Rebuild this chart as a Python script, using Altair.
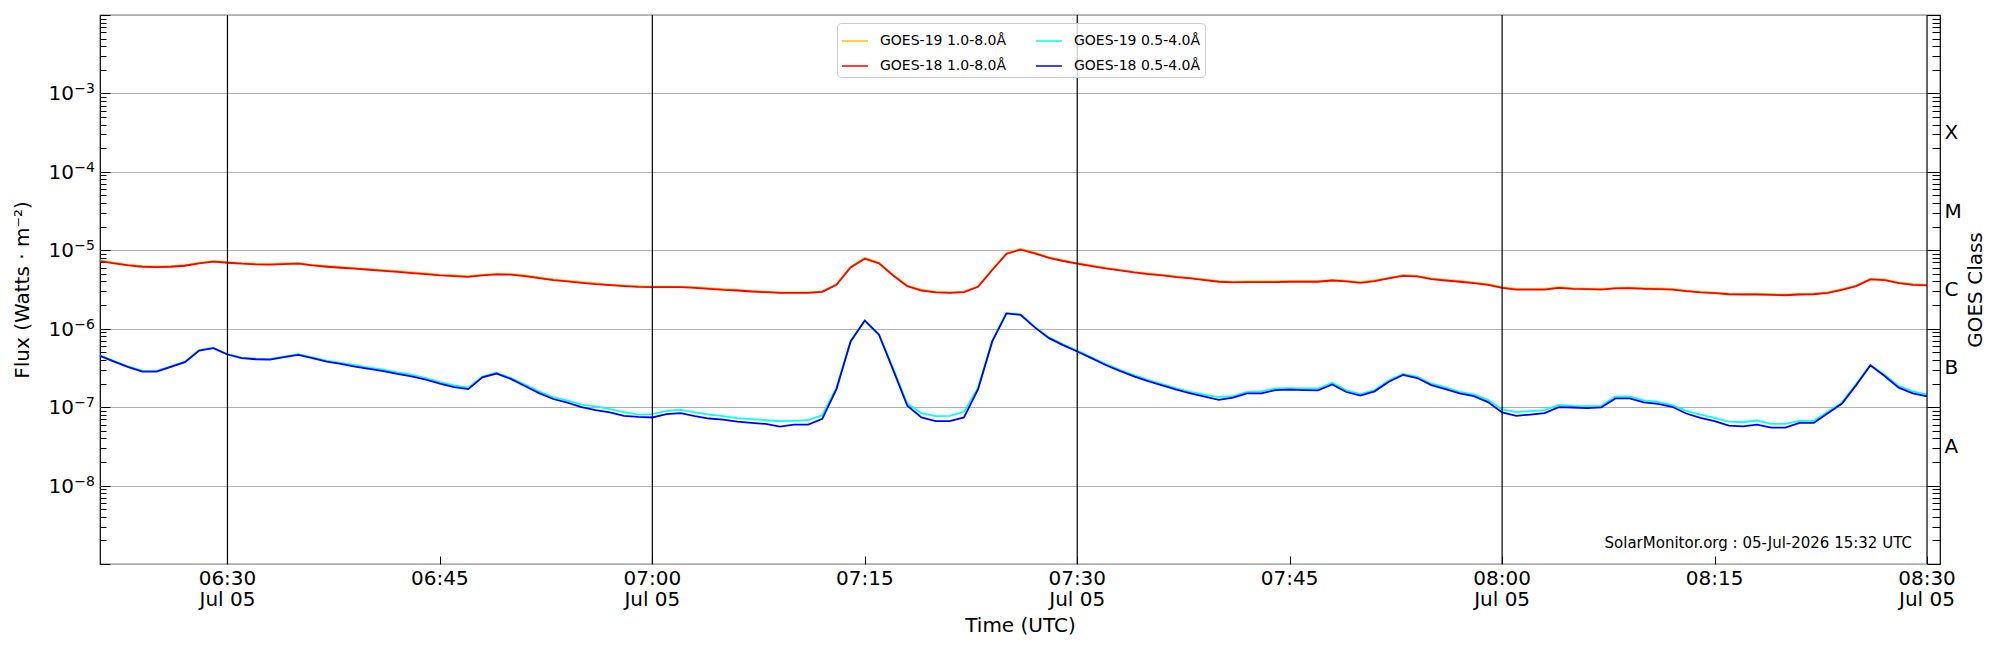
import altair as alt
import pandas as pd

# ---------------- data ----------------
start_time = "2026-07-05 06:21"
n_points = 130

# GOES-18 1.0-8.0 A  (units of 1e-6 W/m^2)
goes18_long_e6 = [
    7.29, 6.81, 6.41, 6.17, 6.11, 6.17, 6.35, 6.81, 7.15, 6.94,
    6.74, 6.61, 6.55, 6.67, 6.74, 6.41, 6.17, 5.99, 5.82, 5.65,
    5.48, 5.32, 5.12, 4.97, 4.78, 4.69, 4.59, 4.78, 4.92, 4.88,
    4.69, 4.42, 4.17, 4.01, 3.85, 3.70, 3.59, 3.49, 3.42, 3.39,
    3.39, 3.39, 3.32, 3.23, 3.13, 3.07, 2.98, 2.92, 2.86, 2.86,
    2.86, 2.95, 3.63, 6.05, 7.82, 6.81, 4.78, 3.49, 3.07, 2.90,
    2.86, 2.92, 3.42, 5.60, 8.98, 10.2, 9.16, 7.98, 7.30, 6.75,
    6.30, 5.88, 5.54, 5.22, 4.98, 4.78, 4.55, 4.38, 4.17, 3.97,
    3.89, 3.93, 3.93, 3.93, 3.97, 3.97, 3.97, 4.12, 4.01, 3.85,
    4.05, 4.38, 4.73, 4.65, 4.29, 4.12, 3.97, 3.81, 3.63, 3.32,
    3.16, 3.16, 3.16, 3.32, 3.23, 3.19, 3.16, 3.26, 3.29, 3.23,
    3.20, 3.16, 3.01, 2.90, 2.84, 2.75, 2.73, 2.73, 2.70, 2.67,
    2.73, 2.75, 2.86, 3.13, 3.49, 4.25, 4.17, 3.81, 3.63, 3.56,
]
# GOES-19 1.0-8.0 A  (units of 1e-6 W/m^2)
goes19_long_e6 = [
    7.42, 6.93, 6.52, 6.28, 6.22, 6.28, 6.46, 6.93, 7.28, 7.06,
    6.86, 6.73, 6.67, 6.79, 6.86, 6.52, 6.28, 6.10, 5.92, 5.75,
    5.58, 5.41, 5.21, 5.06, 4.86, 4.77, 4.67, 4.86, 5.01, 4.97,
    4.77, 4.50, 4.24, 4.08, 3.92, 3.77, 3.65, 3.55, 3.48, 3.45,
    3.45, 3.45, 3.38, 3.29, 3.19, 3.12, 3.03, 2.97, 2.91, 2.91,
    2.91, 3.00, 3.69, 6.15, 7.95, 6.93, 4.86, 3.55, 3.12, 2.95,
    2.91, 2.97, 3.48, 5.70, 9.13, 10.4, 9.32, 8.12, 7.43, 6.87,
    6.41, 5.98, 5.64, 5.31, 5.07, 4.86, 4.63, 4.46, 4.24, 4.04,
    3.96, 4.00, 4.00, 4.00, 4.04, 4.04, 4.04, 4.19, 4.08, 3.92,
    4.12, 4.46, 4.81, 4.73, 4.37, 4.19, 4.04, 3.88, 3.69, 3.38,
    3.22, 3.22, 3.22, 3.38, 3.29, 3.25, 3.22, 3.32, 3.35, 3.29,
    3.26, 3.22, 3.06, 2.95, 2.89, 2.80, 2.78, 2.78, 2.75, 2.72,
    2.78, 2.80, 2.91, 3.19, 3.55, 4.33, 4.24, 3.88, 3.69, 3.62,
]
# GOES-18 0.5-4.0 A  (units of 1e-8 W/m^2)
goes18_short_e8 = [
    45.1, 38.1, 32.3, 28.4, 28.4, 32.6, 37.4, 52.7, 56.5, 46.9,
    42.1, 40.8, 40.4, 43.3, 46.5, 42.1, 38.1, 35.6, 32.9, 30.7,
    28.7, 26.5, 24.7, 22.4, 19.9, 18.0, 17.0, 24.0, 26.8, 22.9,
    18.6, 15.1, 12.7, 11.4, 10.0, 9.16, 8.55, 7.74, 7.52, 7.38,
    8.13, 8.38, 7.67, 7.16, 6.95, 6.55, 6.30, 6.11, 5.65, 6.00,
    6.00, 7.08, 17.0, 68.8, 127.0, 83.8, 29.8, 10.4, 7.38, 6.62,
    6.62, 7.38, 17.0, 68.8, 157.0, 150.0, 104.0, 75.9, 61.8, 51.2,
    42.1, 34.5, 29.0, 24.7, 21.5, 19.0, 16.7, 15.0, 13.6, 12.4,
    13.2, 15.0, 15.0, 16.5, 16.7, 16.5, 16.4, 19.5, 15.6, 14.0,
    15.9, 21.1, 25.7, 23.5, 19.1, 17.0, 15.0, 13.8, 11.6, 8.55,
    7.74, 8.05, 8.38, 10.0, 9.90, 9.70, 9.90, 12.9, 12.9, 11.5,
    11.0, 10.1, 8.30, 7.30, 6.62, 5.82, 5.70, 6.00, 5.48, 5.48,
    6.30, 6.30, 8.38, 11.1, 19.1, 34.2, 25.0, 17.7, 15.0, 13.7,
]
# GOES-19 0.5-4.0 A  (units of 1e-8 W/m^2)
goes19_short_e8 = [
    45.8, 38.8, 33.0, 29.0, 29.0, 33.2, 38.0, 53.5, 57.2, 47.6,
    42.9, 41.6, 41.2, 44.1, 47.3, 43.0, 39.2, 36.8, 34.2, 32.0,
    30.0, 27.8, 25.9, 23.5, 20.9, 18.9, 17.7, 24.6, 27.4, 23.6,
    19.4, 15.9, 13.3, 12.2, 10.8, 10.2, 9.42, 8.63, 8.05, 8.13,
    8.97, 9.24, 8.55, 8.05, 7.67, 7.23, 7.02, 6.81, 6.62, 6.70,
    6.81, 7.89, 17.7, 69.5, 128.0, 85.0, 31.3, 11.1, 8.38, 7.67,
    7.74, 8.71, 17.7, 70.0, 158.0, 152.0, 106.0, 77.5, 63.2, 52.5,
    43.3, 35.6, 30.0, 25.6, 22.3, 19.7, 17.3, 15.7, 14.4, 13.4,
    13.8, 15.7, 15.9, 17.3, 17.5, 17.3, 17.3, 20.5, 16.4, 14.7,
    16.5, 22.0, 26.5, 24.5, 19.9, 17.9, 15.7, 14.5, 12.4, 9.33,
    8.63, 8.89, 9.16, 10.7, 10.4, 10.3, 10.4, 13.7, 13.7, 12.2,
    11.7, 10.6, 8.97, 8.05, 7.30, 6.55, 6.42, 6.75, 6.11, 6.11,
    6.70, 6.70, 8.71, 11.5, 19.7, 34.5, 25.9, 18.6, 15.9, 14.4,
]

# legend fills column by column -> rows read (19 long, 19 short), (18 long, 18 short)
series_legend_order = ["GOES-19 1.0-8.0Å", "GOES-18 1.0-8.0Å", "GOES-19 0.5-4.0Å", "GOES-18 0.5-4.0Å"]
series_colors = ["#FFC107", "#FF0000", "#00FFFF", "#0000FF"]

rule_hm = [(6, 30), (7, 0), (7, 30), (8, 0), (8, 30)]
x_tick_hm = [(6, 30), (6, 45), (7, 0), (7, 15), (7, 30), (7, 45), (8, 0), (8, 15), (8, 30)]
x_tick_labels = ["06:30", "06:45", "07:00", "07:15", "07:30", "07:45", "08:00", "08:15", "08:30"]
date_label = "Jul 05"
y_label_exponents = [-3, -4, -5, -6, -7, -8]
class_letters = ["A", "B", "C", "M", "X"]
class_exponents = [-7.5, -6.5, -5.5, -4.5, -3.5]
annotation = "SolarMonitor.org : 05-Jul-2026 15:32 UTC"

for lst in (goes18_long_e6, goes19_long_e6, goes18_short_e8, goes19_short_e8):
    assert len(lst) == n_points

times = pd.date_range(start_time, periods=n_points, freq="min").strftime("%Y-%m-%dT%H:%M:%SZ").tolist()

draw_order = [
    ("GOES-19 1.0-8.0Å", goes19_long_e6, 1e-6),
    ("GOES-18 1.0-8.0Å", goes18_long_e6, 1e-6),
    ("GOES-19 0.5-4.0Å", goes19_short_e8, 1e-8),
    ("GOES-18 0.5-4.0Å", goes18_short_e8, 1e-8),
]

# ---------------- layout / styling ----------------
W, H = 1840, 549
FONT = "DejaVu Sans"


def dt(h, m, s=0):
    return alt.DateTime(year=2026, month=7, date=5, hours=h, minutes=m, seconds=s, utc=True)


def iso(h, m):
    return f"2026-07-05T{h:02d}:{m:02d}:00Z"


def ms(h, m):
    return int(pd.Timestamp(f"2026-07-05 {h:02d}:{m:02d}:00", tz="UTC").value // 10**6)


rule_times = [iso(h, m) for h, m in rule_hm]

x_scale = alt.Scale(type="utc", domain=[dt(6, 21), dt(8, 30, 55)])
y_scale = alt.Scale(type="log", domain=[1e-9, 1e-2], nice=False)

decades = [10.0 ** e for e in range(-9, -1)]
minors = [k * 10.0 ** e for e in range(-9, -2) for k in range(2, 10)]

class_values = [10.0 ** e for e in class_exponents]
class_expr = ""
for e, letter in zip(class_exponents[:-1], class_letters[:-1]):
    class_expr += f"datum.value < {10.0 ** (e + 0.5)} ? '{letter}' : "
class_expr += f"'{class_letters[-1]}'"

# ---- axes: ticks point inward, titles on the tick axes ----
x_ticks_axis = alt.Axis(
    orient="bottom", values=[ms(h, m) for h, m in x_tick_hm], labels=False,
    tickSize=alt.ExprRef(expr="-8"), tickColor="black", tickWidth=1,
    domain=False, grid=False,
    title="Time (UTC)", titleFont=FONT, titleFontSize=20, titleFontWeight="normal",
    titleColor="black", titlePadding=51,
)
y_left_major = alt.Axis(
    orient="left", values=decades, labels=False,
    tickSize=alt.ExprRef(expr="-10"), tickColor="black", tickWidth=1,
    grid=True, gridColor="#b0b0b0", gridWidth=1, domain=False,
    title="Flux (Watts · m⁻²)", titleFont=FONT, titleFontSize=20,
    titleFontWeight="normal", titleColor="black", titlePadding=67,
)
y_left_minor = alt.Axis(
    orient="left", values=minors, labels=False, grid=False, domain=False,
    tickSize=alt.ExprRef(expr="-6"), tickColor="black", tickWidth=1, title="",
)
y_right_major = alt.Axis(
    orient="right", values=decades, labels=False, grid=False, domain=False,
    tickSize=alt.ExprRef(expr="-13"), tickColor="black", tickWidth=1, title="",
)
y_right_minor = alt.Axis(
    orient="right", values=minors, labels=False, grid=False, domain=False,
    tickSize=alt.ExprRef(expr="-8"), tickColor="black", tickWidth=1, title="",
)
y_right_class = alt.Axis(
    orient="right", values=class_values, labelExpr=class_expr, ticks=False,
    grid=False, domain=False, labelFont=FONT, labelFontSize=20, labelColor="black",
    labelPadding=4, labelBaseline="middle", labelOverlap=False,
    title="GOES Class", titleFont=FONT, titleFontSize=20, titleFontWeight="normal",
    titleColor="black", titleAngle=270, titleBaseline="top", titlePadding=4,
)

legend = alt.Legend(
    orient="none", legendX=737, legendY=8, columns=2, title=None,
    symbolType="stroke", symbolSize=676, symbolStrokeWidth=1.5,
    labelFont=FONT, labelFontSize=14, labelColor="black", labelOffset=11,
    columnPadding=26, rowPadding=4, padding=4,
    fillColor="rgba(255,255,255,0.8)", strokeColor="#cccccc", cornerRadius=4,
)
color_enc = alt.Color("series:N", scale=alt.Scale(domain=series_legend_order, range=series_colors),
                      legend=legend)

layers = []
for i, (name, vals, unit) in enumerate(draw_order):
    df = pd.DataFrame({"time": times, "flux": [v * unit for v in vals], "series": name})
    layers.append(
        alt.Chart(df).mark_line(strokeWidth=1.8).encode(
            x=alt.X("time:T", scale=x_scale, axis=x_ticks_axis if i == 0 else None),
            y=alt.Y("flux:Q", scale=y_scale, axis=y_left_major if i == 0 else None),
            color=color_enc,
        )
    )

rules = alt.Chart(pd.DataFrame({"time": rule_times})).mark_rule(color="black", strokeWidth=1.2).encode(
    x=alt.X("time:T", scale=x_scale, axis=None),
    y=alt.YDatum(1e-9, scale=y_scale, axis=y_left_minor),
    y2=alt.Y2Datum(1e-2),
)

note = alt.Chart(pd.DataFrame({"label": [annotation]})).mark_text(
    align="right", baseline="middle", font=FONT, fontSize=15, color="black"
).encode(
    x=alt.XDatum(dt(8, 28, 56), type="temporal", scale=x_scale, axis=None),
    y=alt.YDatum(1.85e-9, scale=y_scale, axis=y_right_major),
    text="label:N",
)

dummy = pd.DataFrame({"v": [0]})
holder_a = alt.Chart(dummy).mark_point(opacity=0).encode(
    y=alt.YDatum(1e-9, scale=y_scale, axis=y_right_minor))
holder_b = alt.Chart(dummy).mark_point(opacity=0).encode(
    y=alt.YDatum(1e-9, scale=y_scale, axis=y_right_class))

# ---- tick labels placed through the scales ----
ylab_df = pd.DataFrame({
    "value": [10.0 ** e for e in y_label_exponents],
    "base": ["10" for _ in y_label_exponents],
    "sup": ["\u2212" + str(-e) for e in y_label_exponents],
})
ylab_base = alt.Chart(ylab_df).mark_text(
    align="right", baseline="alphabetic", font=FONT, fontSize=20, color="black", dx=-26, dy=7
).encode(
    x=alt.XDatum(dt(6, 21), type="temporal", scale=x_scale, axis=None),
    y=alt.Y("value:Q", scale=y_scale, axis=None),
    text="base:N",
)
ylab_sup = alt.Chart(ylab_df).mark_text(
    align="right", baseline="alphabetic", font=FONT, fontSize=14, color="black", dx=-5, dy=0
).encode(
    x=alt.XDatum(dt(6, 21), type="temporal", scale=x_scale, axis=None),
    y=alt.Y("value:Q", scale=y_scale, axis=None),
    text="sup:N",
)

xlab_df = pd.DataFrame({"time": [iso(h, m) for h, m in x_tick_hm], "label": x_tick_labels})
xdate_df = pd.DataFrame({"time": rule_times, "label": [date_label] * len(rule_times)})
xlab_time = alt.Chart(xlab_df).mark_text(
    align="center", baseline="alphabetic", font=FONT, fontSize=20, color="black", dy=21
).encode(
    x=alt.X("time:T", scale=x_scale, axis=None),
    y=alt.YDatum(1e-9, scale=y_scale, axis=None),
    text="label:N",
)
xlab_date = alt.Chart(xdate_df).mark_text(
    align="center", baseline="alphabetic", font=FONT, fontSize=20, color="black", dy=42
).encode(
    x=alt.X("time:T", scale=x_scale, axis=None),
    y=alt.YDatum(1e-9, scale=y_scale, axis=None),
    text="label:N",
)

chart = (
    alt.layer(*layers, rules, note, holder_a, holder_b, ylab_base, ylab_sup, xlab_time, xlab_date)
    .resolve_axis(x="independent", y="independent")
    .properties(
        width=W, height=H,
        autosize=alt.AutoSizeParams(type="none"),
        padding={"left": 92, "top": 7, "right": 52, "bottom": 76},
    )
    .configure(font=FONT, background="white")
    .configure_view(stroke="black", strokeWidth=1.2)
)

chart.save("out.html", embed_options={"renderer": "svg", "actions": False})
